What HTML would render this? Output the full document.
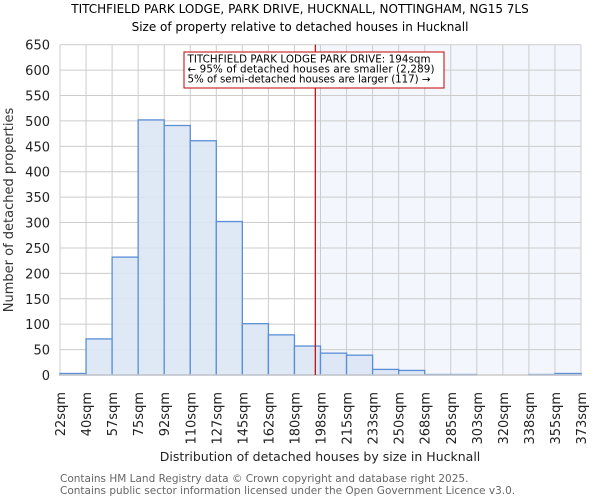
<!DOCTYPE html>
<html><head><meta charset="utf-8"><style>
body{margin:0;background:#fff}
svg{display:block;font-family:"DejaVu Sans","Liberation Sans",sans-serif}
</style></head><body>
<svg width="600" height="500">
<g id="chart"></g>
</svg>
<script>
const categories=["22sqm","40sqm","57sqm","75sqm","92sqm","110sqm","127sqm","145sqm","162sqm","180sqm","198sqm","215sqm","233sqm","250sqm","268sqm","285sqm","303sqm","320sqm","338sqm","355sqm","373sqm"];
const counts=[3,71,232,502,491,461,302,101,79,57,43,39,11,9,1,1,0,0,1,3];
const yTicks=[0,50,100,150,200,250,300,350,400,450,500,550,600,650];
const markerValue=194;
const binStart=22,binEnd=373;
const L=60,R=581,T=44.7,B=375,YMAX=650;
const NS="http://www.w3.org/2000/svg";
const g=document.getElementById('chart');
const nb=counts.length, bw=(R-L)/nb;
function xIdx(i){return L+i*bw;}
function xVal(v){return L+(v-binStart)/(binEnd-binStart)*(R-L);}
function y(v){return B-v/YMAX*(B-T);}
function mk(tag,a,txt){const e=document.createElementNS(NS,tag);for(const k in a)e.setAttribute(k,a[k]);if(txt!==undefined)e.textContent=txt;g.appendChild(e);return e;}
const mx=xVal(markerValue);
let e=mk('rect',{x:mx,y:T,width:R-mx,height:B-T,fill:'#f3f6fd'});


yTicks.forEach(t=>{
 e=mk('line',{x1:L,x2:R,y1:y(t),y2:y(t),stroke:'#cccccc','stroke-width':1});
 
 
 e=mk('text',{x:L-10,y:y(t)+5,'text-anchor':'end','font-size':13,fill:'#222'},t);
 
 
});
categories.forEach((c,i)=>{
 e=mk('line',{x1:xIdx(i),x2:xIdx(i),y1:T,y2:B,stroke:'#cccccc','stroke-width':1});
 
 
 const tx=xIdx(i)+5;
 e=mk('text',{x:0,y:0,transform:`translate(${tx},392) rotate(-90)`,'text-anchor':'end','font-size':13,fill:'#222'},c);
 
 
});
counts.forEach((v,i)=>{
 e=mk('rect',{x:xIdx(i),y:y(v),width:bw,height:B-y(v),fill:'#dce6f4',stroke:'#5a8fd6','stroke-width':1.3,'fill-opacity':0.9});
 
 
});
e=mk('line',{x1:L,x2:R,y1:B,y2:B,stroke:'#cccccc','stroke-width':1.5});


e=mk('line',{x1:mx,x2:mx,y1:T,y2:B,stroke:'#c00000','stroke-width':1.2});


e=mk('rect',{x:184,y:52,width:260,height:36,fill:'#fff',stroke:'#c00000','stroke-width':1});


["TITCHFIELD PARK LODGE PARK DRIVE: 194sqm","← 95% of detached houses are smaller (2,289)","5% of semi-detached houses are larger (117) →"].forEach((s,i)=>{
 e=mk('text',{x:187.5,y:62.5+i*10,'font-size':10.3,'textLength':i==1?247:243,fill:'#000'},s);
 
 
});
e=mk('text',{x:300,y:13,'text-anchor':'middle','font-size':12,fill:'#000'},"TITCHFIELD PARK LODGE, PARK DRIVE, HUCKNALL, NOTTINGHAM, NG15 7LS");


e=mk('text',{x:300,y:31,'text-anchor':'middle','font-size':12,fill:'#000'},"Size of property relative to detached houses in Hucknall");


e=mk('text',{x:0,y:0,transform:'translate(13,210) rotate(-90)','text-anchor':'middle','font-size':13,fill:'#333'},"Number of detached properties");


e=mk('text',{x:320,y:461,'text-anchor':'middle','font-size':12.5,fill:'#222'},"Distribution of detached houses by size in Hucknall");


e=mk('text',{x:60,y:482,'font-size':10.5,fill:'#666'},"Contains HM Land Registry data © Crown copyright and database right 2025.");


e=mk('text',{x:60,y:494,'font-size':10.5,fill:'#666'},"Contains public sector information licensed under the Open Government Licence v3.0.");


</script>
</body></html>
